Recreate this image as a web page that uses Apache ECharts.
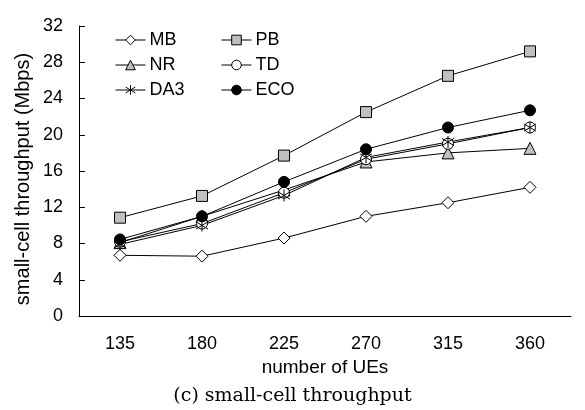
<!DOCTYPE html>
<html><head><meta charset="utf-8">
<script src="https://cdn.jsdelivr.net/npm/echarts@6/dist/echarts.min.js"></script>
<style>html,body{margin:0;padding:0;background:#fff}#c{width:585px;height:410px}</style>
</head><body><div id="c"></div>
<script>
const categories = ['135','180','225','270','315','360'];
const MB  = [6.7, 6.6, 8.6, 11.0, 12.5, 14.2];
const PB  = [10.85, 13.25, 17.7, 22.5, 26.5, 29.2];
const NR  = [8.1, 11.0, 13.9, 17.0, 18.0, 18.5];
const TD  = [8.2, 10.2, 13.6, 17.3, 19.0, 20.8];
const DA3 = [7.9, 10.0, 13.3, 17.5, 19.2, 20.8];
const ECO = [8.45, 11.0, 14.8, 18.4, 20.8, 22.7];
const yTicks = [0, 4, 8, 12, 16, 20, 24, 28, 32];

const FONT = '"Liberation Sans", Arial, sans-serif';
const star = 'path://M0,-1L0,1M-0.8,-0.6L0.8,0.6M-0.8,0.6L0.8,-0.6';

function s(name, data, symbol, fill, size) {
  return {
    name, type: 'line', data, symbol, symbolSize: size,
    showSymbol: true,
    lineStyle: { color: '#000', width: 1 },
    itemStyle: { color: fill, borderColor: '#000', borderWidth: 1 },
    emphasis: { disabled: true },
    animation: false
  };
}

const chart = echarts.init(document.getElementById('c'), null, { renderer: 'canvas' });
const legendCommon = {
  orient: 'vertical', itemWidth: 30, itemHeight: 12, itemGap: 7,
  lineStyle: { width: 1, color: '#000' },
  itemStyle: { borderWidth: 1, borderColor: '#000' },
  textStyle: { fontFamily: FONT, fontSize: 18, color: '#000', padding: [0,0,0,-1] },
  selectedMode: false
};
chart.setOption({
  animation: false,
  grid: { left: 79, right: 14, top: 26, bottom: 94 },
  legend: [
    Object.assign({ left: 110, top: 26, data: ['MB', 'NR', 'DA3'] }, legendCommon),
    Object.assign({ left: 216, top: 26, data: ['PB', 'TD', 'ECO'] }, legendCommon)
  ],
  xAxis: {
    type: 'category', data: categories, boundaryGap: true,
    axisLine: { lineStyle: { color: '#000', width: 1 } },
    axisTick: { inside: true, length: 6, lineStyle: { color: '#000' } },
    axisLabel: { fontFamily: FONT, fontSize: 18, color: '#000', margin: 19 },
    name: 'number of UEs', nameLocation: 'middle', nameGap: 42,
    nameTextStyle: { fontFamily: FONT, fontSize: 19, color: '#000' }
  },
  yAxis: {
    type: 'value', min: 0, max: 32, interval: 4,
    axisLine: { show: true, lineStyle: { color: '#000', width: 1 } },
    axisTick: { show: true, inside: true, length: 6, lineStyle: { color: '#000' } },
    splitLine: { show: false },
    axisLabel: { fontFamily: FONT, fontSize: 18, color: '#000', margin: 16,
      formatter: v => yTicks.includes(v) ? String(v) : '' }
  },
  graphic: [{
    type: 'text', x: 23, y: 179, rotation: Math.PI / 2,
    style: { text: 'small-cell throughput (Mbps)', font: '20px "Liberation Sans", Arial, sans-serif',
      fill: '#000', align: 'center', verticalAlign: 'middle' }
  }, {
    type: 'text', left: 'center', top: 387,
    style: { text: '(c) small-cell throughput', font: '19px "DejaVu Serif", "Liberation Serif", serif', fill: '#000' }
  }],
  series: [
    s('MB', MB, 'diamond', '#fff', 12),
    s('PB', PB, 'rect', '#c0c0c0', 11),
    s('NR', NR, 'triangle', '#c0c0c0', 12),
    s('TD', TD, 'circle', '#fff', 11),
    s('DA3', DA3, star, '#000', 12),
    s('ECO', ECO, 'circle', '#000', 11)
  ]
});
</script></body></html>
